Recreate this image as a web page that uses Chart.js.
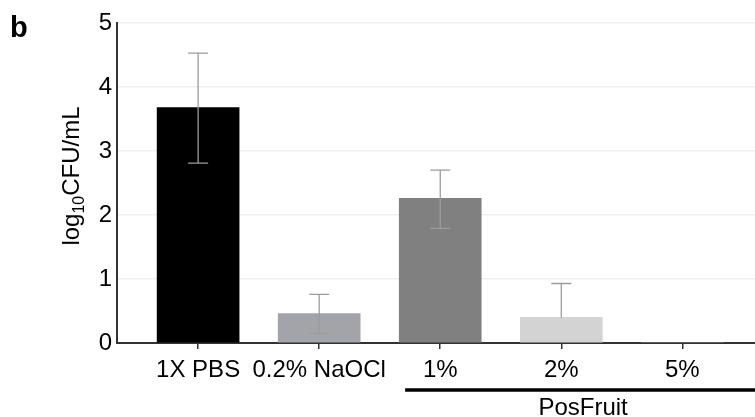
<!DOCTYPE html>
<html>
<head>
<meta charset="utf-8">
<script src="https://cdn.jsdelivr.net/npm/chart.js@4/dist/chart.umd.min.js"></script>
<style>
  body { margin: 0; background: #fff; }
</style>
</head>
<body>
<canvas id="BarChart" width="755" height="417"></canvas>
<script>
// data
const categories = ['1X PBS', '0.2% NaOCl', '1%', '2%', '5%'];
const meanLog = [3.68, 0.46, 2.26, 0.40, 0];
const errUp = [0.85, 0.30, 0.44, 0.53, 0];
const errDown = [0.87, 0.31, 0.47, 0, 0];
const barColors = ['#000000', '#a3a3aa', '#808080', '#d3d3d3', '#d3d3d3'];
const yTicks = [0, 1, 2, 3, 4, 5];
const groupName = 'PosFruit';
const groupStart = 2;

const FONT = "'Liberation Sans', Arial, sans-serif";

const extras = {
  id: 'extras',
  afterDatasetsDraw(chart) {
    const ctx = chart.ctx;
    const x = chart.scales.x, y = chart.scales.y;
    // error bars
    ctx.save();
    ctx.strokeStyle = '#9c9c9c';
    ctx.lineWidth = 1.3;
    meanLog.forEach((v, i) => {
      if (!errUp[i] && !errDown[i]) return;
      const px = x.getPixelForValue(i);
      const top = y.getPixelForValue(v + errUp[i]);
      const bot = y.getPixelForValue(Math.max(0, v - errDown[i]));
      ctx.beginPath();
      ctx.moveTo(px, top); ctx.lineTo(px, bot);
      ctx.moveTo(px - 10, top); ctx.lineTo(px + 10, top);
      if (errDown[i]) { ctx.moveTo(px - 10, bot); ctx.lineTo(px + 10, bot); }
      ctx.stroke();
    });
    ctx.restore();
  },
  afterDraw(chart) {
    const ctx = chart.ctx;
    const x = chart.scales.x;
    ctx.save();
    // panel letter
    ctx.fillStyle = '#000';
    ctx.font = 'bold 29px ' + FONT;
    ctx.textBaseline = 'alphabetic';
    ctx.fillText('b', 10, 37);

    // group bracket
    const x0 = x.getPixelForValue(groupStart - 0.29);
    const x1 = chart.width;
    ctx.strokeStyle = '#000';
    ctx.lineWidth = 3.5;
    ctx.beginPath();
    ctx.moveTo(x0, 390); ctx.lineTo(x1, 390);
    ctx.stroke();
    ctx.font = '24px ' + FONT;
    ctx.textAlign = 'center';
    ctx.textBaseline = 'alphabetic';
    ctx.fillText(groupName, (x0 + x1) / 2 + 3, 415);

    // y title with subscript
    ctx.translate(79, 176);
    ctx.rotate(-Math.PI / 2);
    ctx.textAlign = 'left';
    const big = '24px ' + FONT, small = '16px ' + FONT;
    ctx.font = big; const w1 = ctx.measureText('log').width;
    ctx.font = small; const w2 = ctx.measureText('10').width;
    ctx.font = big; const w3 = ctx.measureText('CFU/mL').width;
    let sx = -(w1 + w2 + w3) / 2;
    ctx.font = big; ctx.fillText('log', sx, 0); sx += w1;
    ctx.font = small; ctx.fillText('10', sx, 5); sx += w2;
    ctx.font = big; ctx.fillText('CFU/mL', sx, 0);
    ctx.restore();
  }
};

const ctx = document.getElementById('BarChart').getContext('2d');
new Chart(ctx, {
  type: 'bar',
  data: {
    datasets: [{
      data: meanLog.map((v, i) => ({ x: i, y: v })),
      backgroundColor: barColors,
      borderWidth: 0,
      barThickness: 82
    }]
  },
  options: {
    responsive: false,
    animation: false,
    layout: { padding: { top: 23, right: 0, left: 0, bottom: 0 } },
    plugins: { legend: { display: false }, tooltip: { enabled: false } },
    scales: {
      x: {
        type: 'linear',
        offset: false,
        min: -0.67,
        max: 4.6,
        afterBuildTicks: s => { s.ticks = categories.map((c, i) => ({ value: i })); },
        afterFit: s => { s.height = 74; },
        ticks: {
          callback: v => categories[v],
          color: '#000',
          font: { family: FONT, size: 24 },
          padding: 7,
          maxRotation: 0,
          autoSkip: false
        },
        grid: { offset: false, drawOnChartArea: false, drawTicks: true, tickLength: 6, color: '#333', lineWidth: 1.5 },
        border: { color: '#333', width: 2 }
      },
      y: {
        min: 0,
        max: 5,
        afterBuildTicks: s => { s.ticks = yTicks.map(v => ({ value: v })); },
        afterFit: s => { s.width = 117; },
        ticks: {
          color: '#000',
          font: { family: FONT, size: 24 },
          padding: 5
        },
        grid: { color: '#efefef', lineWidth: 1.5, drawTicks: false },
        border: { color: '#333', width: 2 }
      }
    }
  },
  plugins: [extras]
});
</script>
</body>
</html>
